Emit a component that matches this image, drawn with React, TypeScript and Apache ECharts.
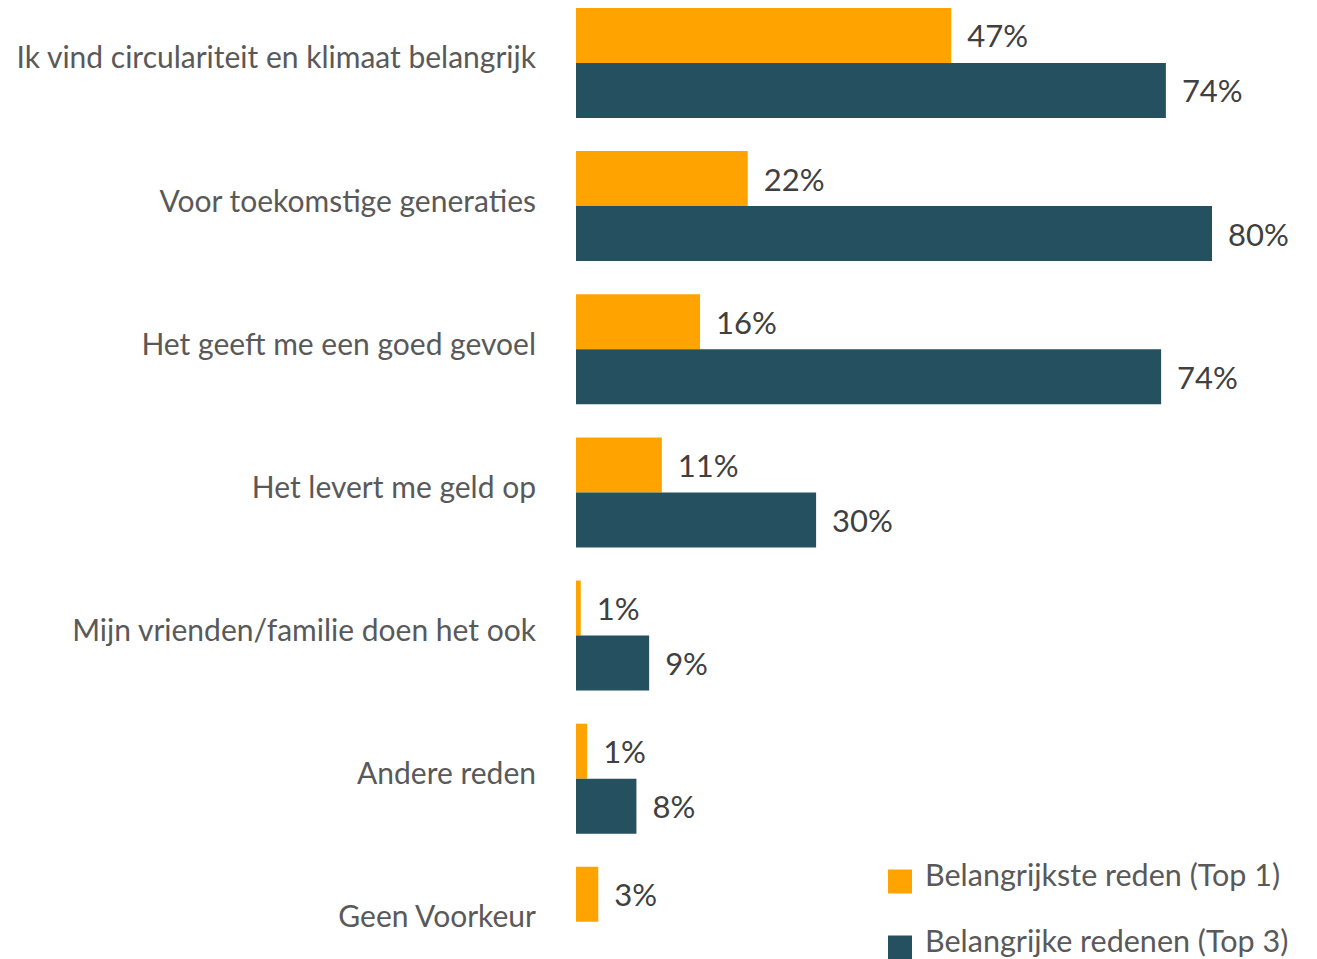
import React, { useEffect, useRef } from "react";
import * as echarts from "echarts";

const categories = [
  "Ik vind circulariteit en klimaat belangrijk",
  "Voor toekomstige generaties",
  "Het geeft me een goed gevoel",
  "Het levert me geld op",
  "Mijn vrienden/familie doen het ook",
  "Andere reden",
  "Geen Voorkeur",
];
const seriesNames = ["Belangrijkste reden (Top 1)", "Belangrijke redenen (Top 3)"];
const top1Values = [47.2, 21.6, 15.6, 10.8, 0.6, 1.4, 2.8];
const top1Labels = ["47%", "22%", "16%", "11%", "1%", "1%", "3%"];
const top3Values: (number | null)[] = [74.2, 80, 73.6, 30.2, 9.2, 7.6, null];
const top3Labels = ["74%", "80%", "74%", "30%", "9%", "8%", ""];

const FONT = "Lato";
const SHIFT = 9;

export default function App() {
  const ref = useRef<HTMLDivElement>(null);
  useEffect(() => {
    if (!ref.current) return;
    const chart = echarts.init(ref.current, null, { renderer: "svg" });
    const dataLabel = (labels: string[]) => ({
      show: true,
      position: "right",
      distance: 16,
      color: "#404040",
      fontSize: 31,
      fontFamily: FONT,
      formatter: (p: any) => labels[p.dataIndex],
    });
    chart.setOption({
      animation: false,
      textStyle: { fontFamily: FONT },
      grid: { left: 576, top: SHIFT - 8.6, width: 715.5, height: 1002 },
      xAxis: { type: "value", min: 0, max: 90, show: false },
      yAxis: {
        type: "category",
        data: categories,
        inverse: true,
        axisLine: { show: false },
        axisTick: { show: false },
        splitLine: { show: false },
        axisLabel: {
          color: "#595959",
          fontSize: 30,
          fontFamily: FONT,
          margin: 40,
          formatter: (v: string) => `{a|${v}}`,
          rich: {
            a: { color: "#595959", fontSize: 30, fontFamily: FONT, padding: [0, 0, 13, 0] },
          },
        },
      },
      legend: {
        orient: "vertical",
        left: 883,
        top: 862,
        itemWidth: 24,
        itemHeight: 24,
        itemGap: 30.5,
        icon: "rect",
        formatter: (n: string) => `{a|${n}}`,
        textStyle: {
          color: "#595959",
          fontSize: 30.5,
          fontFamily: FONT,
          rich: {
            a: { color: "#595959", fontSize: 30.5, fontFamily: FONT, padding: [0, 0, 16, 8] },
          },
        },
        data: seriesNames,
      },
      series: [
        {
          name: seriesNames[0],
          type: "bar",
          data: top1Values,
          barWidth: 55,
          barGap: "0%",
          itemStyle: { color: "#FFA300" },
          label: dataLabel(top1Labels),
        },
        {
          name: seriesNames[1],
          type: "bar",
          data: top3Values,
          barWidth: 55,
          barGap: "0%",
          itemStyle: { color: "#24505F" },
          label: dataLabel(top3Labels),
        },
      ],
    });
    return () => chart.dispose();
  }, []);
  return (
    <div
      ref={ref}
      style={{ position: "fixed", left: 0, top: -SHIFT, width: 1317, height: 1010, background: "#fff" }}
    />
  );
}
